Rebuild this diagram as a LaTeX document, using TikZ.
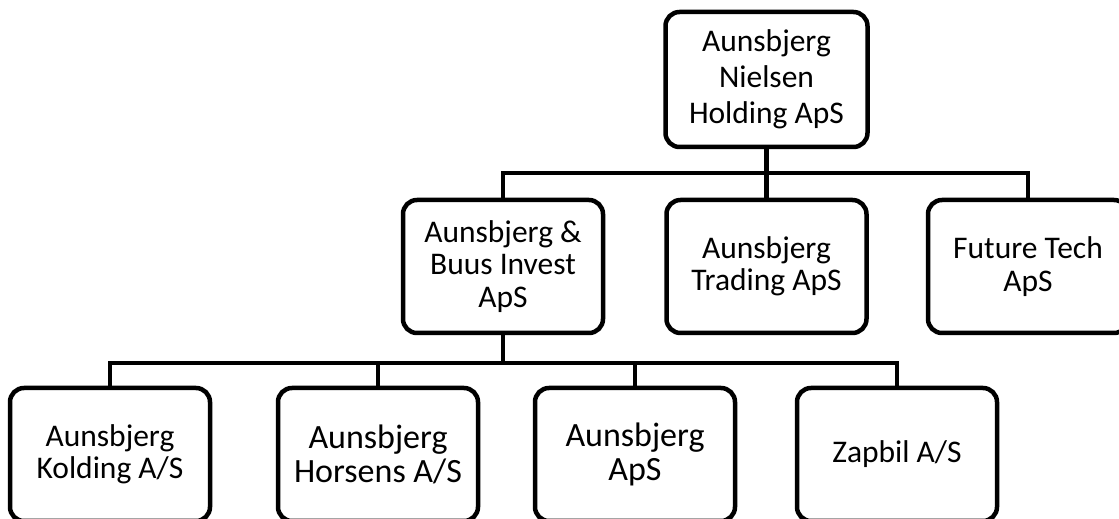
\documentclass[tikz,border=0pt]{standalone}
\usepackage{fontspec}
\setmainfont{Carlito}

\begin{document}
\begin{tikzpicture}[x=100pt, y=100pt,
    company/.style={draw, line width=4.5pt, rounded corners=14pt, align=center,
      minimum width=200pt, minimum height=133pt, inner sep=0pt,
      font=\fontsize{31.5}{32.5}\selectfont},
    bigtext/.style={font=\fontsize{34}{34}\selectfont},
    link/.style={line width=4.5pt}]
    \useasboundingbox (0,0) rectangle (11.19,5.19);
    \clip (0,0) rectangle (11.19,5.19);

    \node[company, minimum width=202pt, minimum height=135pt,
      font=\fontsize{31.5}{36}\selectfont] (holding) at (7.665,4.395) {Aunsbjerg\\Nielsen\\Holding ApS};

    \node[company] (invest)     at ( 5.03,2.525) {Aunsbjerg \&\\Buus Invest\\ApS};
    \node[company] (trading)    at (7.665,2.525) {Aunsbjerg\\Trading ApS};
    \node[company] (futuretech) at (10.28,2.525) {Future Tech\\ApS};

    \node[company] (kolding)      at (1.10,0.645) {Aunsbjerg\\Kolding A/S};
    \node[company, bigtext] (horsens)      at (3.78,0.645) {Aunsbjerg\\Horsens A/S};
    \node[company, bigtext] (aunsbjergaps) at (6.35,0.645) {Aunsbjerg\\ApS};
    \node[company] (zapbil)       at (8.97,0.645) {Zapbil A/S};

    \coordinate (bus1) at (7.665,3.46);
    \coordinate (bus2) at (5.03,1.56);

    \draw[link] (holding.south) -- (trading.north);
    \draw[link] (invest.north) |- (bus1) -| (futuretech.north);

    \draw[link] (invest.south) -- (bus2);
    \draw[link] (kolding.north) |- (bus2) -| (zapbil.north);
    \draw[link] (horsens.north) -- (horsens.north |- bus2);
    \draw[link] (aunsbjergaps.north) -- (aunsbjergaps.north |- bus2);
\end{tikzpicture}
\end{document}
